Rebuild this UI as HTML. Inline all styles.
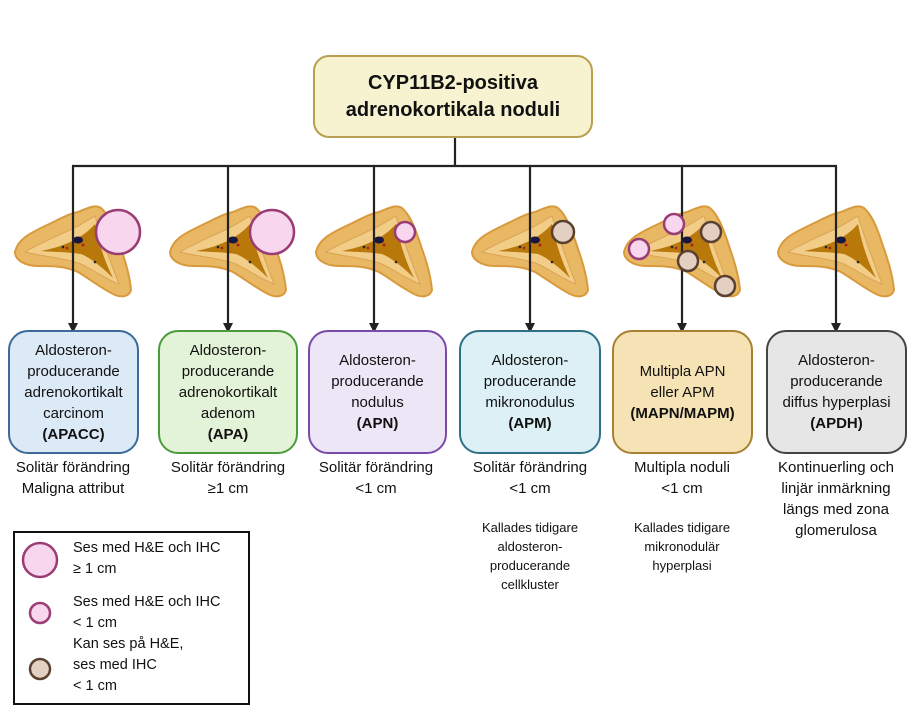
<!DOCTYPE html>
<html><head><meta charset="utf-8"><style>
body{margin:0;width:913px;height:713px;background:#fff;position:relative;font-family:"Liberation Sans",sans-serif;overflow:hidden;color:#111}
.t{position:absolute;text-align:center;font-size:15px;line-height:21px}
.box{position:absolute;top:330px;height:124px;border-radius:20px;border:2px solid;box-sizing:border-box;display:flex;align-items:center;justify-content:center;text-align:center;font-size:15px;line-height:21px}
.s{position:absolute;text-align:center;font-size:13px;line-height:19px}
</style></head><body>
<svg width="913" height="713" style="position:absolute;left:0;top:0">
<defs>
<marker id="a" markerWidth="10" markerHeight="10" refX="5" refY="5" orient="auto" markerUnits="userSpaceOnUse"><path d="M0,0 L10,5 L0,10 z" fill="#222"/></marker>
<g id="g">
<path d="M-58,252 C-55,238 -40,232 -28,226 C-15,220 -5,214 5,212 C15,208 22,204 28,208 C35,214 40,225 45,240 C50,255 56,270 58,290 C56,297 48,298 40,294 C28,288 15,278 5,272 C-8,266 -20,266 -35,266 C-48,266 -58,260 -58,252 z" fill="#e9b864" stroke="#d99a3e" stroke-width="2"/>
<path d="M-48,252 C-35,244 -15,236 5,226 L22,216 C28,236 36,258 46,284 C35,280 20,270 8,264 C-8,258 -28,257 -48,252 z" fill="#f2cd88" stroke="#d9a455" stroke-width="1"/>
<path d="M-32,251 C-12,247 8,240 22,224 C26,244 32,262 40,278 C30,268 18,258 8,254 C-5,252 -20,252 -32,251 z" fill="#b8780a"/>
<ellipse cx="5" cy="240" rx="5" ry="3.5" fill="#1a1440"/>
<circle cx="-10" cy="247" r="1.3" fill="#223"/><circle cx="-6" cy="248" r="1.3" fill="#a22"/><circle cx="10" cy="245" r="1.5" fill="#a22"/><circle cx="22" cy="262" r="1.3" fill="#223"/>
</g>
</defs>
<use href="#g" x="73"/><use href="#g" x="228"/><use href="#g" x="374"/><use href="#g" x="530"/><use href="#g" x="682"/><use href="#g" x="836"/>
<g stroke="#222" stroke-width="2.2" fill="none">
<line x1="455" y1="138" x2="455" y2="166"/>
<line x1="72" y1="166" x2="837" y2="166"/>
<line x1="73" y1="166" x2="73" y2="328" marker-end="url(#a)"/>
<line x1="228" y1="166" x2="228" y2="328" marker-end="url(#a)"/>
<line x1="374" y1="166" x2="374" y2="328" marker-end="url(#a)"/>
<line x1="530" y1="166" x2="530" y2="328" marker-end="url(#a)"/>
<line x1="682" y1="166" x2="682" y2="328" marker-end="url(#a)"/>
<line x1="836" y1="166" x2="836" y2="328" marker-end="url(#a)"/>
</g>
<g fill="#f7d6ee" stroke="#9a3d75" stroke-width="2.5">
<circle cx="118" cy="232" r="22"/><circle cx="272" cy="232" r="22"/><circle cx="405" cy="232" r="10"/>
<circle cx="674" cy="224" r="10"/><circle cx="639" cy="249" r="10"/>
<circle cx="40" cy="560" r="17"/><circle cx="40" cy="613" r="10"/>
</g>
<g fill="#e3d0c2" stroke="#5a4030" stroke-width="2.5">
<circle cx="563" cy="232" r="11"/><circle cx="711" cy="232" r="10"/><circle cx="688" cy="261" r="10"/><circle cx="725" cy="286" r="10"/>
<circle cx="40" cy="669" r="10"/>
</g>
<rect x="14" y="532" width="235" height="172" fill="none" stroke="#111" stroke-width="2"/>
</svg>
<div style="position:absolute;left:313px;top:55px;width:280px;height:83px;box-sizing:border-box;border:2px solid #b8a050;border-radius:16px;background:#f7f3d0;display:flex;align-items:center;justify-content:center;text-align:center;font-weight:bold;font-size:20px;line-height:27px"><div>CYP11B2-positiva<br>adrenokortikala noduli</div></div>
<div class="box" style="left:8px;width:131px;background:#dce9f7;border-color:#3d6a99"><div>Aldosteron-<br>producerande<br>adrenokortikalt<br>carcinom<br><b>(APACC)</b></div></div>
<div class="box" style="left:158px;width:140px;background:#e2f3d8;border-color:#4d9a3d"><div>Aldosteron-<br>producerande<br>adrenokortikalt<br>adenom<br><b>(APA)</b></div></div>
<div class="box" style="left:308px;width:139px;background:#ece6f7;border-color:#7a4aa8"><div>Aldosteron-<br>producerande<br>nodulus<br><b>(APN)</b></div></div>
<div class="box" style="left:459px;width:142px;background:#dcf0f6;border-color:#2e7085"><div>Aldosteron-<br>producerande<br>mikronodulus<br><b>(APM)</b></div></div>
<div class="box" style="left:612px;width:141px;background:#f6e3b5;border-color:#a88030"><div>Multipla APN<br>eller APM<br><b>(MAPN/MAPM)</b></div></div>
<div class="box" style="left:766px;width:141px;background:#e6e6e6;border-color:#444"><div>Aldosteron-<br>producerande<br>diffus hyperplasi<br><b>(APDH)</b></div></div>
<div class="t" style="left:0;width:146px;top:457px">Solitär förändring<br>Maligna attribut</div>
<div class="t" style="left:150px;width:156px;top:457px">Solitär förändring<br>≥1 cm</div>
<div class="t" style="left:298px;width:156px;top:457px">Solitär förändring<br>&lt;1 cm</div>
<div class="t" style="left:452px;width:156px;top:457px">Solitär förändring<br>&lt;1 cm</div>
<div class="t" style="left:604px;width:156px;top:457px">Multipla noduli<br>&lt;1 cm</div>
<div class="t" style="left:758px;width:156px;top:457px">Kontinuerling och<br>linjär inmärkning<br>längs med zona<br>glomerulosa</div>
<div class="s" style="left:452px;width:156px;top:518px">Kallades tidigare<br>aldosteron-<br>producerande<br>cellkluster</div>
<div class="s" style="left:604px;width:156px;top:518px">Kallades tidigare<br>mikronodulär<br>hyperplasi</div>
<div style="position:absolute;left:73px;top:538px;font-size:14.5px;line-height:21px">Ses med H&amp;E och IHC<br>≥ 1 cm<div style="height:12px"></div>Ses med H&amp;E och IHC<br>&lt; 1 cm<br>Kan ses på H&amp;E,<br>ses med IHC<br>&lt; 1 cm</div>
</body></html>
